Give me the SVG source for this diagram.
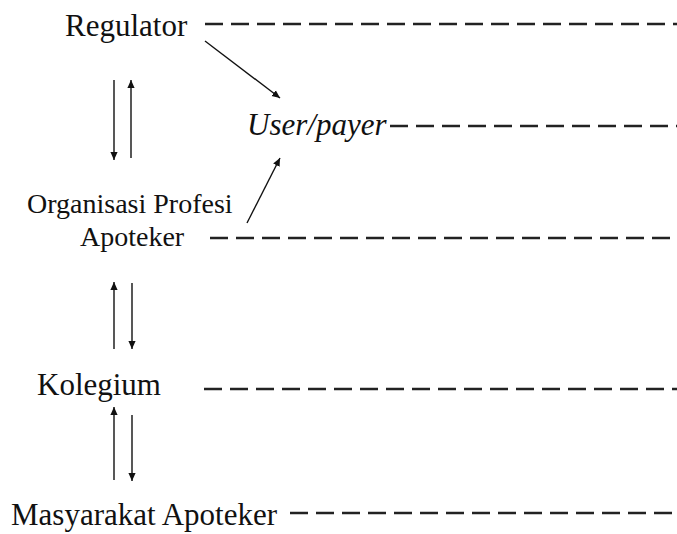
<svg xmlns="http://www.w3.org/2000/svg" width="677" height="534" viewBox="0 0 677 534">
<style>
text{font-family:'Liberation Serif','Times New Roman',Tinos,'DejaVu Serif',serif;fill:#111}
.big{font-size:31px}
.mid{font-size:28px}
.dash{stroke:#222;stroke-width:2.6;stroke-dasharray:18 8;fill:none}
.arr{stroke:#111;stroke-width:1.4;fill:none;marker-end:url(#ah)}
</style>
<defs>
<marker id="ah" viewBox="0 0 10 10" refX="10" refY="5" markerWidth="8" markerHeight="8" markerUnits="userSpaceOnUse" orient="auto">
<path d="M0,0.5 L10,5 L0,9.5 z" fill="#111"/>
</marker>
</defs>
<rect width="677" height="534" fill="#fff"/>
<g id="regulator"><text class="big" x="65" y="36" font-family="Liberation Serif, serif">Regulator</text></g>
<g id="userpayer"><text class="big" x="247" y="135" font-style="italic" font-family="Liberation Serif, serif">User/payer</text></g>
<g id="organisasi"><text class="mid" x="27" y="213" font-family="Liberation Serif, serif">Organisasi Profesi</text><text class="mid" x="80" y="246" font-family="Liberation Serif, serif">Apoteker</text></g>
<g id="kolegium"><text class="big" x="37" y="395" font-family="Liberation Serif, serif">Kolegium</text></g>
<g id="masyarakat"><text class="big" x="11" y="525" font-family="Liberation Serif, serif">Masyarakat Apoteker</text></g>
<g id="connectors">
<line class="dash" x1="205" y1="24" x2="677" y2="24"/>
<line class="dash" x1="390" y1="126" x2="677" y2="126"/>
<line class="dash" x1="210" y1="238" x2="677" y2="238"/>
<line class="dash" x1="204" y1="389" x2="677" y2="389"/>
<line class="dash" x1="290" y1="513" x2="677" y2="513"/>
<line class="arr" x1="205" y1="41" x2="280" y2="98"/>
<line class="arr" x1="247" y1="223" x2="280" y2="158"/>
<line class="arr" x1="114" y1="80" x2="114" y2="160"/>
<line class="arr" x1="131" y1="158" x2="131" y2="80"/>
<line class="arr" x1="114" y1="349" x2="114" y2="282"/>
<line class="arr" x1="132" y1="283" x2="132" y2="349"/>
<line class="arr" x1="114" y1="480" x2="114" y2="407"/>
<line class="arr" x1="132" y1="415" x2="132" y2="481"/>
</g>
</svg>
